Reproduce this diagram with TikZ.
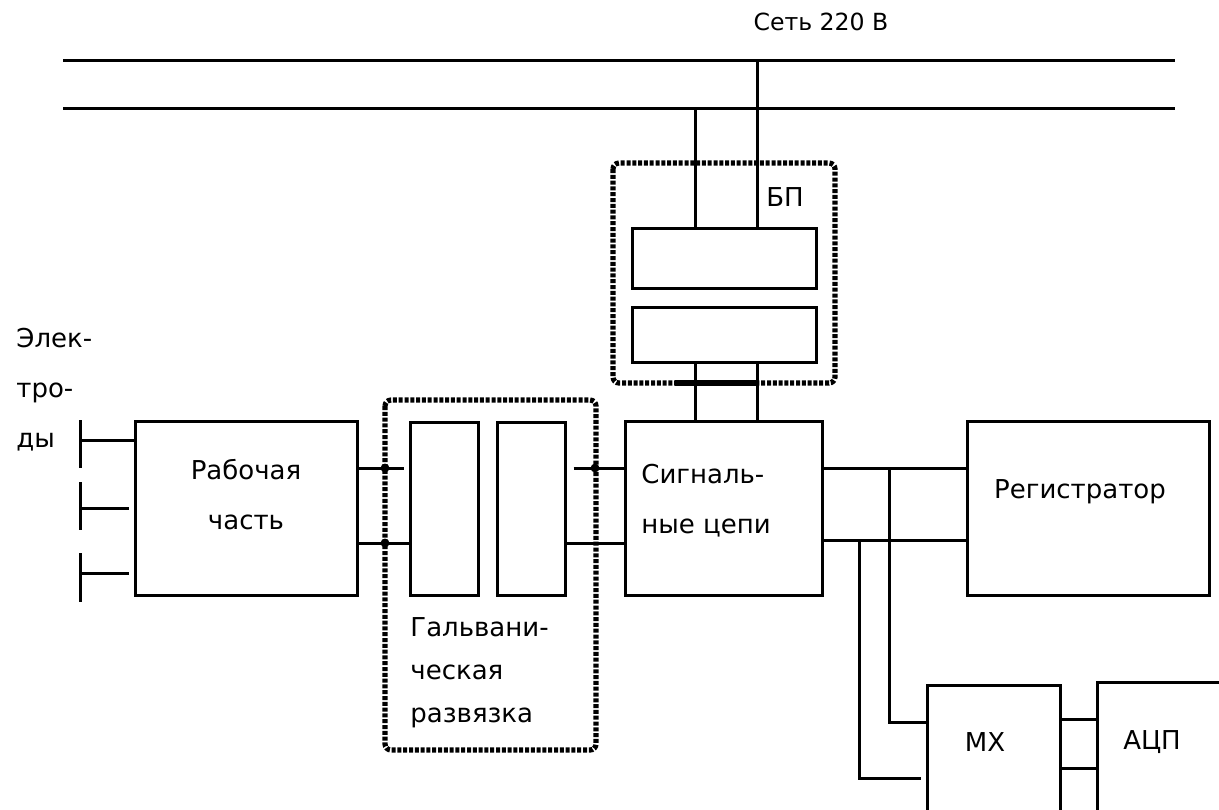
\documentclass[tikz,border=0pt]{standalone}
\usepackage{fontspec}
\setmainfont{DejaVu Sans}
\usepackage{tikz}
\usetikzlibrary{positioning}
\definecolor{lineblack}{RGB}{0,0,0}

\begin{document}
\begin{tikzpicture}[x=0.5pt,y=-0.5pt,
  blk/.style={draw=lineblack, line width=1.5pt, inner sep=0pt, fill=white},
  cable/.style={draw=lineblack, line width=1.5pt},
  grp/.style={draw=lineblack, line width=2.6pt, dash pattern=on 2pt off 0.9pt, rounded corners=3pt},
  txt/.style={font=\fontsize{13}{25}\selectfont, inner sep=0pt}]
\useasboundingbox (0,0) rectangle (1219,809);
\clip (0,0) rectangle (1219,809);
% mains
\coordinate (netA) at (63,60);
\coordinate (netAe) at (1175,60);
\coordinate (netB) at (63,108);
\coordinate (netBe) at (1175,108);
\coordinate (xa) at (695,0);
\coordinate (xb) at (757,0);
\draw[cable] (netA) -- (netAe);
\draw[cable] (netB) -- (netBe);
\node[txt, font=\fontsize{11.8}{14}\selectfont] (net) at (821,22) {Сеть 220 В};
% blocks
\node[blk, minimum width=92pt, minimum height=30pt] (bp1) at (724,258) {};
\node[blk, minimum width=92pt, minimum height=27.5pt] (bp2) at (724,334.5) {};
\node[blk, minimum width=111pt, minimum height=87pt] (rab) at (246,508) {};
\node[blk, minimum width=34pt, minimum height=86.5pt] (galA) at (444,508.5) {};
\node[blk, minimum width=34pt, minimum height=86.5pt] (galB) at (531,508.5) {};
\node[blk, minimum width=98.5pt, minimum height=87pt] (sig) at (723.5,508) {};
\node[blk, minimum width=121pt, minimum height=87pt] (reg) at (1088,508) {};
\node[blk, minimum width=66.5pt, minimum height=72.5pt] (mx) at (993.5,757.5) {};
\node[blk, minimum width=76.5pt, minimum height=74pt] (adc) at (1173.5,756) {};
% wire levels
\coordinate (up) at (0,468);
\coordinate (dn) at (0,543);
\coordinate (lvC) at (0,540);
\coordinate (inA) at (0,722);
\coordinate (inB) at (0,778);
\coordinate (mxA) at (0,719);
\coordinate (mxB) at (0,768);
\coordinate (tapA) at (889,468);
\coordinate (tapB) at (859,540);
% power supply
\draw[cable] (xb |- netA) -- (xb |- bp1.north);
\draw[cable] (xa |- netB) -- (xa |- bp1.north);
\draw[cable] (xa |- bp2.south) -- (xa |- sig.north);
\draw[cable] (xb |- bp2.south) -- (xb |- sig.north);
% electrodes
\foreach \i/\ya/\yb/\yc in {1/420/468/440, 2/482/530/508, 3/553/602/573} {
  \draw[cable] (80,\ya) -- (80,\yb);
  \coordinate (el\i) at (80,\yc);
}
\draw[cable] (el1) -- (rab.west |- el1);
\foreach \i in {2,3}
  \draw[cable, shorten >=2.5pt] (el\i) -- (rab.west |- el\i);
% signal path
\draw[cable, shorten >=2.5pt] (rab.east |- up) -- (galA.west |- up);
\draw[cable] (rab.east |- dn) -- (galA.west |- dn);
\draw[cable, shorten <=3.5pt] (galB.east |- up) -- (sig.west |- up);
\draw[cable] (galB.east |- dn) -- (sig.west |- dn);
\draw[cable] (sig.east |- up) -- (reg.west |- up);
\draw[cable] (sig.east |- lvC) -- (reg.west |- lvC);
\draw[cable] (tapA) |- (mx.west |- inA);
\draw[cable, shorten >=2.5pt] (tapB) |- (mx.west |- inB);
\draw[cable] (mx.east |- mxA) -- (adc.west |- mxA);
\draw[cable] (mx.east |- mxB) -- (adc.west |- mxB);
% groups
\draw[grp] (613,163) rectangle (835,383);
\draw[grp] (385,400) rectangle (596,750);
\draw[lineblack, line width=3pt] (675,383) -- (757,383);
\foreach \p in {(385,468),(385,543),(595,468)}
  \fill[lineblack] \p circle (2.2pt);
% labels
\node[txt] (bptxt) at (785,197) {БП};
\node[txt, align=left, anchor=west] (eltxt) at (16,390) {Элек-\\тро-\\ды};
\node[txt, align=center] (rabtxt) at (246,495) {Рабочая\\часть};
\node[txt, align=left, anchor=west, font=\fontsize{13}{21.5}\selectfont] (galtxt) at (410,673) {Гальвани-\\ческая\\развязка};
\node[txt, align=left, anchor=west] (sigtxt) at (641,501) {Сигналь-\\ные цепи};
\node[txt] (regtxt) at (1080,492) {Регистратор};
\node[txt] (mxtxt) at (985,742) {МХ};
\node[txt] (adctxt) at (1152,742) {АЦП};
\end{tikzpicture}
\end{document}
